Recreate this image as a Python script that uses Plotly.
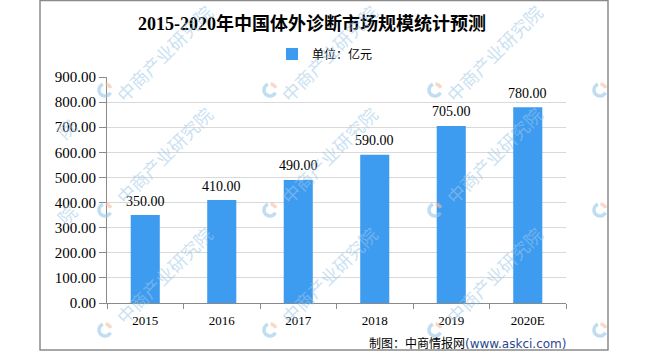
import math
import plotly.graph_objects as go

# ---------------- data ----------------
years = ["2015", "2016", "2017", "2018", "2019", "2020E"]
values = [350, 410, 490, 590, 705, 780]
series_name = "单位：亿元"
title_text = "2015-2020年中国体外诊断市场规模统计预测"
source_text = "制图：中商情报网"
source_url = "(www.askci.com)"
watermark_text = "中商产业研究院"

# ---------------- layout geometry (pixels) ----------------
W, H = 650, 354
L, R, T, B = 107, 566, 77, 303  # plot area in pixels


def px(x):
    return (x - L) / (R - L)


def py(y):
    return (B - y) / (B - T)


BAR_COLOR = "#3d9cf0"
AXIS_COLOR = "#8a8a8a"
GRID_COLOR = "#d9d9d9"
NUM_FONT = "Liberation Serif, DejaVu Serif, serif"
CJK_FONT = "Noto Sans CJK SC, sans-serif"

fig = go.Figure()
fig.add_trace(go.Bar(
    x=years, y=values, name=series_name,
    marker=dict(color=BAR_COLOR, line=dict(width=0)),
    showlegend=True,
))

annotations = []
# value labels (category index positions on the category axis)
for i, v in enumerate(values):
    annotations.append(dict(
        x=i, y=v, xref="x", yref="y", text=f"{v:.2f}",
        showarrow=False, xanchor="center", yanchor="middle", yshift=14,
        font=dict(family=NUM_FONT, size=14, color="#000000"),
    ))

# title
annotations.append(dict(
    x=px(312), y=py(24), xref="paper", yref="paper",
    text=f"<b>{title_text}</b>", showarrow=False,
    xanchor="center", yanchor="middle",
    font=dict(family="Liberation Serif, Noto Sans CJK SC, serif", size=18, color="#000000"),
))

# source note
annotations.append(dict(
    x=px(568), y=py(342), xref="paper", yref="paper",
    text=f"{source_text}<span style='color:#2b4790;font-family:DejaVu Sans, sans-serif'>{source_url}</span>",
    showarrow=False, xanchor="right", yanchor="middle",
    font=dict(family=CJK_FONT, size=12, color="#000000"),
))

# watermarks
WM_COLOR = "rgba(157,199,231,0.55)"
shapes = []
cols = [105, 270, 435, 600]
rows = [90, 210, 330]
for x0 in cols:
    for y0 in rows:
        if x0 < 560:
            cy = max(y0 - 55, 53)
            annotations.append(dict(
                x=px(x0 + 59), y=py(cy), xref="paper", yref="paper",
                text=watermark_text, textangle=-45, showarrow=False,
                xanchor="center", yanchor="middle",
                font=dict(family=CJK_FONT, size=18, color=WM_COLOR),
            ))
        # logo: blue arc + orange arc
        for a0, a1, col in [(110, 335, "rgba(150,198,232,0.6)"), (20, 85, "rgba(245,190,160,0.6)")]:
            pts = []
            for k in range(21):
                a = math.radians(a0 + (a1 - a0) * k / 20)
                xx = x0 + 6 * math.cos(a)
                yy = y0 - 6 * math.sin(a)
                if xx <= 607:
                    pts.append((xx, yy))
            if len(pts) > 1:
                path = "M " + " L ".join(f"{px(a):.5f},{py(b):.5f}" for a, b in pts)
                shapes.append(dict(type="path", xref="paper", yref="paper", path=path,
                                   line=dict(color=col, width=3.5), layer="above"))
# partial watermark chars at the left frame edge
for yy in [110, 232]:
    annotations.append(dict(
        x=px(48), y=py(yy), xref="paper", yref="paper",
        text="院", textangle=-45, showarrow=False,
        font=dict(family=CJK_FONT, size=18, color=WM_COLOR),
    ))

# outer frame
shapes.append(dict(type="rect", xref="paper", yref="paper",
                   x0=px(40), x1=px(608), y0=py(0.5), y1=py(350),
                   line=dict(color=AXIS_COLOR, width=1.5), layer="below"))

fig.update_layout(
    width=W, height=H, autosize=False,
    margin=dict(l=L, r=W - R, t=T, b=H - B, pad=0),
    paper_bgcolor="#ffffff", plot_bgcolor="#ffffff",
    bargap=0.62,
    showlegend=True,
    legend=dict(
        orientation="h", x=px(325), y=py(54), xanchor="center", yanchor="middle",
        xref="paper", yref="paper",
        font=dict(family=CJK_FONT, size=12, color="#000000"),
        itemwidth=30, bgcolor="rgba(0,0,0,0)",
    ),
    xaxis=dict(
        type="category", categoryorder="array", categoryarray=years,
        range=[-0.5, len(years) - 0.5],
        tickson="boundaries", ticks="outside", ticklen=5,
        tickcolor=AXIS_COLOR, showline=True, linecolor=AXIS_COLOR, linewidth=1,
        showgrid=False, ticklabelstandoff=5,
        tickfont=dict(family=NUM_FONT, size=13, color="#000000"),
    ),
    yaxis=dict(
        range=[0, 900], dtick=100, tickformat=".2f", ticks="outside", ticklen=7,
        tickcolor=AXIS_COLOR, showline=True, linecolor=AXIS_COLOR, linewidth=1,
        showgrid=True, gridcolor=GRID_COLOR, gridwidth=1, zeroline=False,
        tickfont=dict(family=NUM_FONT, size=15, color="#000000"),
    ),
    annotations=annotations,
    shapes=shapes,
)

fig.write_html("out.html")
